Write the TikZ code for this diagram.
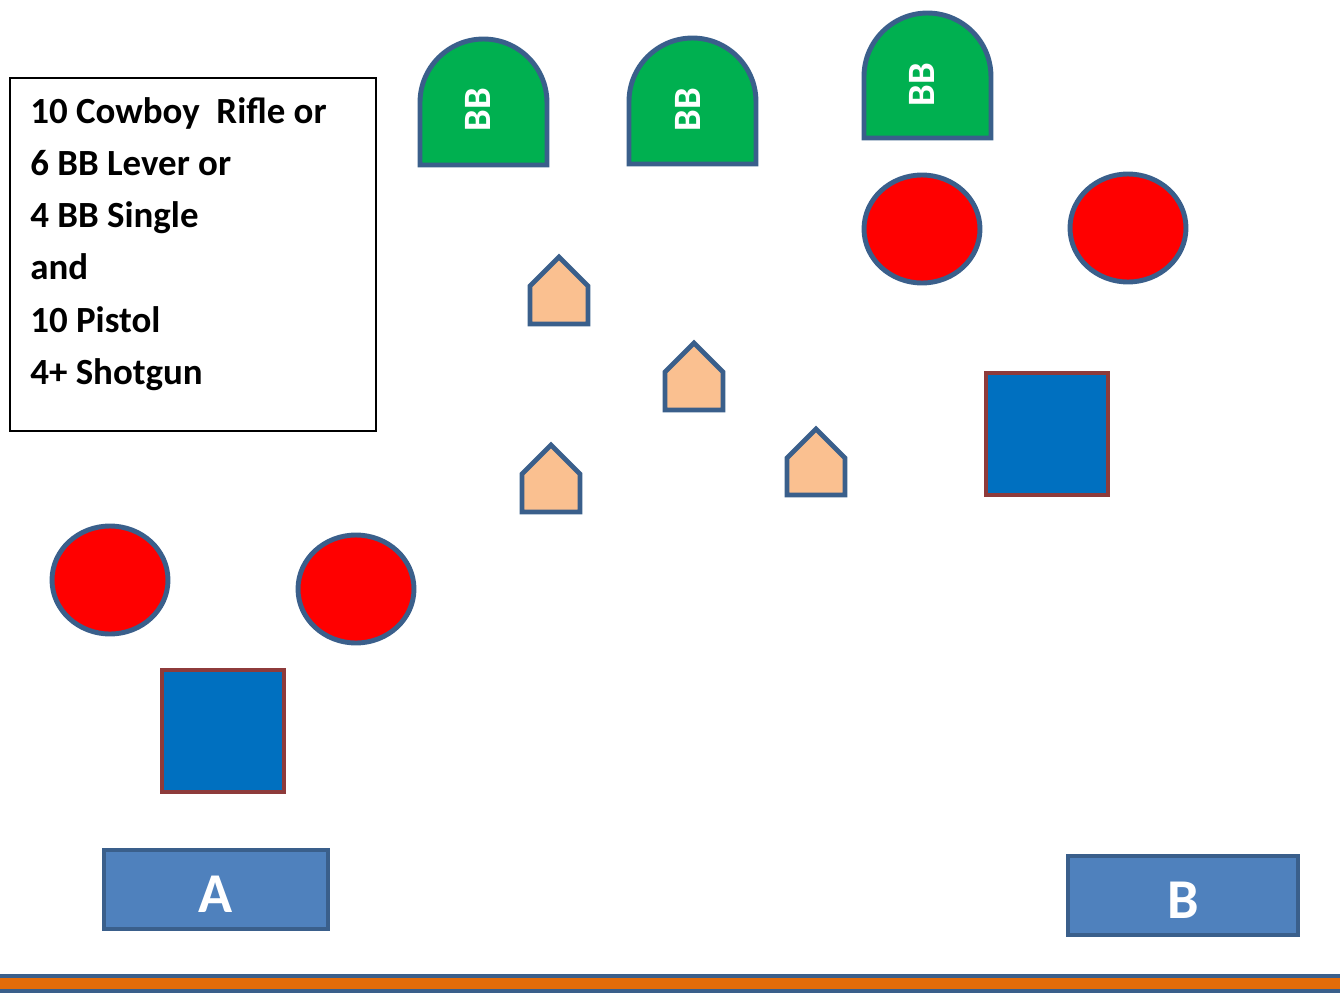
\documentclass[tikz,border=0pt]{standalone}
\usepackage{fontspec}
\setmainfont{Carlito}
\usetikzlibrary{shapes.geometric}
\definecolor{rim}{HTML}{3A5F8B}
\definecolor{bbgreen}{HTML}{00B050}
\definecolor{peach}{HTML}{FAC090}
\definecolor{barrelblue}{HTML}{0070C0}
\definecolor{brick}{HTML}{8E3B3B}
\definecolor{posblue}{HTML}{4F81BD}
\definecolor{railorange}{HTML}{E46C0A}
\begin{document}
\begin{tikzpicture}[x=0.02cm,y=-0.02cm,
  target/.style={ellipse,draw=rim,fill=red,line width=2.8pt,minimum width=2.32cm,minimum height=2.16cm,inner sep=0pt},
  barrel/.style={draw=brick,fill=barrelblue,line width=2.8pt,minimum size=2.44cm,inner sep=0pt},
  standbox/.style={draw=rim,fill=posblue,line width=2.8pt,minimum height=1.58cm,inner sep=0pt,text=white,
    text height=0.9cm,text depth=0pt,font=\bfseries\fontsize{32}{32}\selectfont},
  bb/.style={draw=rim,fill=bbgreen,line width=2.8pt},
  bbtext/.style={rotate=90,text=white,inner sep=0pt,font=\bfseries\fontsize{22}{22}\selectfont},
  house/.style={draw=rim,fill=peach,line width=2.8pt},
  note/.style={anchor=base west,inner sep=0pt,font=\bfseries\fontsize{21}{21}\selectfont}]
  \useasboundingbox (0,0) rectangle (1340,994);

  % round of instructions
  \draw[line width=1.1pt] (10,78) rectangle (376,431);
  \foreach \i/\y/\txt in {1/123/{10 Cowboy\ \ Rifle or},2/175/{6 BB Lever or},3/227/{4 BB Single},
                          4/279/{and},5/332/{10 Pistol},6/384/{4+ Shotgun}}
    \node[note] (line\i) at (30,\y) {\txt};

  % BB plates
  \draw[bb] (420,165) -- (420,102.5) arc[start angle=180,end angle=0,radius=1.27cm] -- (547,165) -- cycle;
  \draw[bb] (629,164) -- (629,101.5) arc[start angle=180,end angle=0,radius=1.27cm] -- (756,164) -- cycle;
  \draw[bb] (864,138) -- (864,76.5) arc[start angle=180,end angle=0,radius=1.27cm] -- (991,138) -- cycle;
  \node[bbtext] (bb1) at (478,110) {BB};
  \node[bbtext] (bb2) at (688,110) {BB};
  \node[bbtext] (bb3) at (922,85) {BB};

  % pistol / shotgun targets
  \node[target] (t1) at (922,229) {};
  \node[target] (t2) at (1128,228) {};
  \node[target] (t3) at (110,580) {};
  \node[target] (t4) at (356,589) {};

  % rifle targets
  \foreach \cx/\ay/\by in {559/257/324,694/343/410,551/445/512,816/429/495}
    \draw[house] ({\cx-29},\by) -- ({\cx-29},{\ay+29}) -- (\cx,\ay) -- ({\cx+29},{\ay+29}) -- ({\cx+29},\by) -- cycle;

  % barrels
  \node[barrel] (barrel1) at (223,731) {};
  \node[barrel] (barrel2) at (1047,434) {};

  % start positions
  \node[standbox,minimum width=4.48cm] (posA) at (216,889.5) {A};
  \node[standbox,minimum width=4.6cm] (posB) at (1183,895.5) {B};

  % loading table rail
  \draw[draw=rim,fill=railorange,line width=2.8pt] (-5,976) rectangle (1345,991);
\end{tikzpicture}
\end{document}
